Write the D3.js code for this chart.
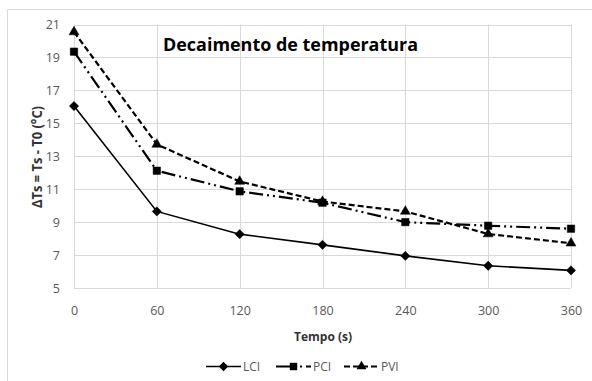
<!DOCTYPE html>
<html><head><meta charset="utf-8">
<script src="https://cdn.jsdelivr.net/npm/d3@7"></script>
<style>body{margin:0;background:#fff;}svg{display:block;font-family:"Open Sans","Liberation Sans",sans-serif;}</style>
</head><body><svg id="c" width="592" height="381"></svg>
<script>
const times = [0, 60, 120, 180, 240, 300, 360];
const LCI = [16.05, 9.65, 8.27, 7.62, 6.95, 6.35, 6.07];
const PCI = [19.35, 12.12, 10.87, 10.18, 9.0, 8.78, 8.6];
const PVI = [20.55, 13.72, 11.47, 10.25, 9.65, 8.28, 7.72];
const yTicks = [5, 7, 9, 11, 13, 15, 17, 19, 21];
const xTicks = [0, 60, 120, 180, 240, 300, 360];
const seriesNames = ["LCI", "PCI", "PVI"];

const svg = d3.select("#c");
const x = d3.scaleLinear().domain([0, 360]).range([74, 571]);
const y = d3.scaleLinear().domain([5, 21]).range([288, 24.5]);

// frame edges
svg.append("line").attr("x1",7.5).attr("x2",592).attr("y1",9.5).attr("y2",9.5).attr("stroke","#d9d9d9");
svg.append("line").attr("x1",7.5).attr("x2",7.5).attr("y1",9.5).attr("y2",381).attr("stroke","#d9d9d9");

// grid
svg.append("g").selectAll("line").data(yTicks).join("line")
  .attr("x1", x(0)).attr("x2", x(360))
  .attr("y1", d => Math.round(y(d))+0.5).attr("y2", d => Math.round(y(d))+0.5)
  .attr("stroke", "#d9d9d9").attr("stroke-width", 1);
svg.append("g").selectAll("line").data(xTicks).join("line")
  .attr("y1", y(5)).attr("y2", y(21))
  .attr("x1", d => Math.round(x(d))+0.5).attr("x2", d => Math.round(x(d))+0.5)
  .attr("stroke", "#d9d9d9").attr("stroke-width", 1);

// axes with d3
const yAxis = d3.axisLeft(y).tickValues(yTicks).tickSize(0).tickPadding(14);
const gy = svg.append("g").attr("transform", `translate(${x(0)},0)`).call(yAxis);
gy.select(".domain").remove();
gy.selectAll("text").attr("fill","#595959").style("font-size","12.5px").style("font-family","'Open Sans','Liberation Sans',sans-serif");

const xAxis = d3.axisBottom(x).tickValues(xTicks).tickSize(0).tickPadding(18);
const gx = svg.append("g").attr("transform", `translate(0,${y(5)})`).call(xAxis);
gx.select(".domain").remove();
gx.selectAll("text").attr("fill","#595959").style("font-size","12.5px").style("font-family","'Open Sans','Liberation Sans',sans-serif");

// title
svg.append("text").attr("x", 163).attr("y", 51).attr("font-weight","bold")
  .attr("font-size", 17.5).attr("fill","#000").attr("textLength", 255).attr("lengthAdjust","spacingAndGlyphs")
  .text("Decaimento de temperatura");

// axis titles
svg.append("text").attr("x", 323).attr("y", 341).attr("text-anchor","middle")
  .attr("font-weight","bold").attr("font-size", 12).attr("fill","#333").text("Tempo (s)");
svg.append("text").attr("transform", `translate(42,157) rotate(-90)`)
  .attr("text-anchor","middle").attr("font-weight","bold").attr("font-size", 13.5).attr("fill","#333")
  .attr("textLength", 102).attr("lengthAdjust","spacingAndGlyphs")
  .text("ΔTs = Ts - T0 (°C)");

const styles = {
  LCI: {data: LCI, dash: null, width: 1.6, marker: d3.symbolDiamond2, msize: 55},
  PCI: {data: PCI, dash: "14,4,2,4,2,4", width: 2.2, marker: d3.symbolSquare2, msize: 70},
  PVI: {data: PVI, dash: "6,3", width: 2.2, marker: d3.symbolTriangle2, msize: 70}
};
const line = d3.line().x((d,i) => x(times[i])).y(d => y(d));

seriesNames.forEach(name => {
  const s = styles[name];
  svg.append("path").datum(s.data).attr("d", line).attr("fill","none")
    .attr("stroke","#000").attr("stroke-width", s.width)
    .attr("stroke-dasharray", s.dash);
  svg.append("g").selectAll("path").data(s.data).join("path")
    .attr("transform", (d,i) => `translate(${x(times[i])},${y(d)})`)
    .attr("d", d3.symbol().type(s.marker).size(s.msize)).attr("fill","#000").attr("stroke","#000").attr("stroke-width",0.5);
});

// legend
const legX = [206, 276, 344];
const legY = 366.5;
seriesNames.forEach((name, i) => {
  const s = styles[name];
  const g = svg.append("g").attr("transform", `translate(${legX[i]},${legY})`);
  g.append("line").attr("x1",0).attr("x2",35).attr("y1",0).attr("y2",0)
    .attr("stroke","#000").attr("stroke-width", s.width).attr("stroke-dasharray", s.dash);
  g.append("path").attr("transform","translate(17.5,0)").attr("d", d3.symbol().type(s.marker).size(s.msize)).attr("fill","#000");
  g.append("text").attr("x", 37).attr("y", 4.5).attr("font-size", 12).attr("fill","#595959").text(name);
});
</script></body></html>
